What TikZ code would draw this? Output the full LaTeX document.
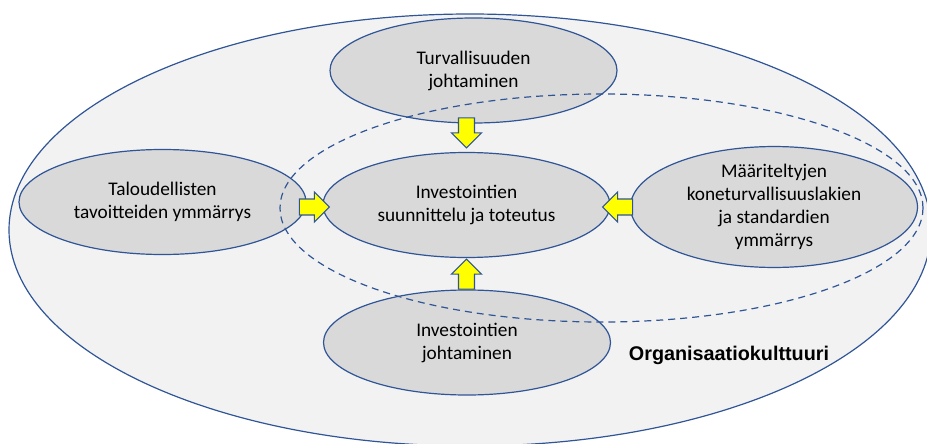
\documentclass[tikz,border=0pt]{standalone}
\usepackage{fontspec}
\setmainfont{Carlito}
\newfontfamily\orgfont{Liberation Sans}
\usetikzlibrary{shapes.geometric,calc}

\definecolor{edgeblue}{HTML}{2F5597}
\definecolor{culturefill}{HTML}{F2F2F2}
\definecolor{topicfill}{HTML}{D9D9D9}
\definecolor{arrowyellow}{HTML}{FFFF00}

\tikzset{
  topic/.style={ellipse, draw=edgeblue, line width=1.2pt, fill=topicfill,
    minimum width=287pt, minimum height=105pt, inner sep=0pt,
    align=center, text=black, font=\fontsize{19.3}{23}\selectfont},
  culture/.style={draw=edgeblue, line width=1.2pt, fill=culturefill},
  scopeline/.style={draw=edgeblue, line width=1.2pt, dashed, dash pattern=on 7pt off 5pt},
  blockarrow/.pic={
    \draw[draw=edgeblue, line width=1.1pt, fill=arrowyellow, line join=miter]
      (0,0) -- (-15,-15) -- (-15,-8) -- (-30,-8) -- (-30,8) -- (-15,8) -- (-15,15) -- cycle;
  }
}

\begin{document}
\begin{tikzpicture}[x=1pt,y=-1pt]
  \useasboundingbox (0,0) rectangle (927,444);

  % organisational culture as the surrounding field
  \path[culture] (470,230) ellipse [x radius=461, y radius=216];

  % topic ellipses
  \node[topic] (safety)  at (473.5,70.5) {Turvallisuuden\\johtaminen};
  \node[topic] (invest)  at (466.5,205)  {Investointien\\suunnittelu ja toteutus};
  \node[topic] (finance) at (162.5,202)  {Taloudellisten\\tavoitteiden ymmärrys};
  \node[topic] (laws)    at (774,207)    {Määriteltyjen\\koneturvallisuuslakien\\ja standardien\\ymmärrys};
  \node[topic] (manage)  at (467,342.5)  {Investointien\\johtaminen};

  % dashed boundary around the investment process
  \path[scopeline] (601.5,208) ellipse [x radius=321.5, y radius=114];

  % block arrows pointing into the central topic
  \pic[rotate=-90] at ($(invest.north)+(0,-4)$) {blockarrow};
  \pic[rotate=90]  at ($(invest.south)+(0,1)$)  {blockarrow};
  \pic[rotate=0]   at ($(invest.west)+(7,2)$)   {blockarrow};
  \pic[rotate=180] at ($(invest.east)+(-8,2)$)  {blockarrow};

  % label of the surrounding field
  \node[anchor=base, font=\orgfont\bfseries\fontsize{19.8}{24}\selectfont] (culturelabel)
    at (729,360) {Organisaatiokulttuuri};
\end{tikzpicture}
\end{document}
